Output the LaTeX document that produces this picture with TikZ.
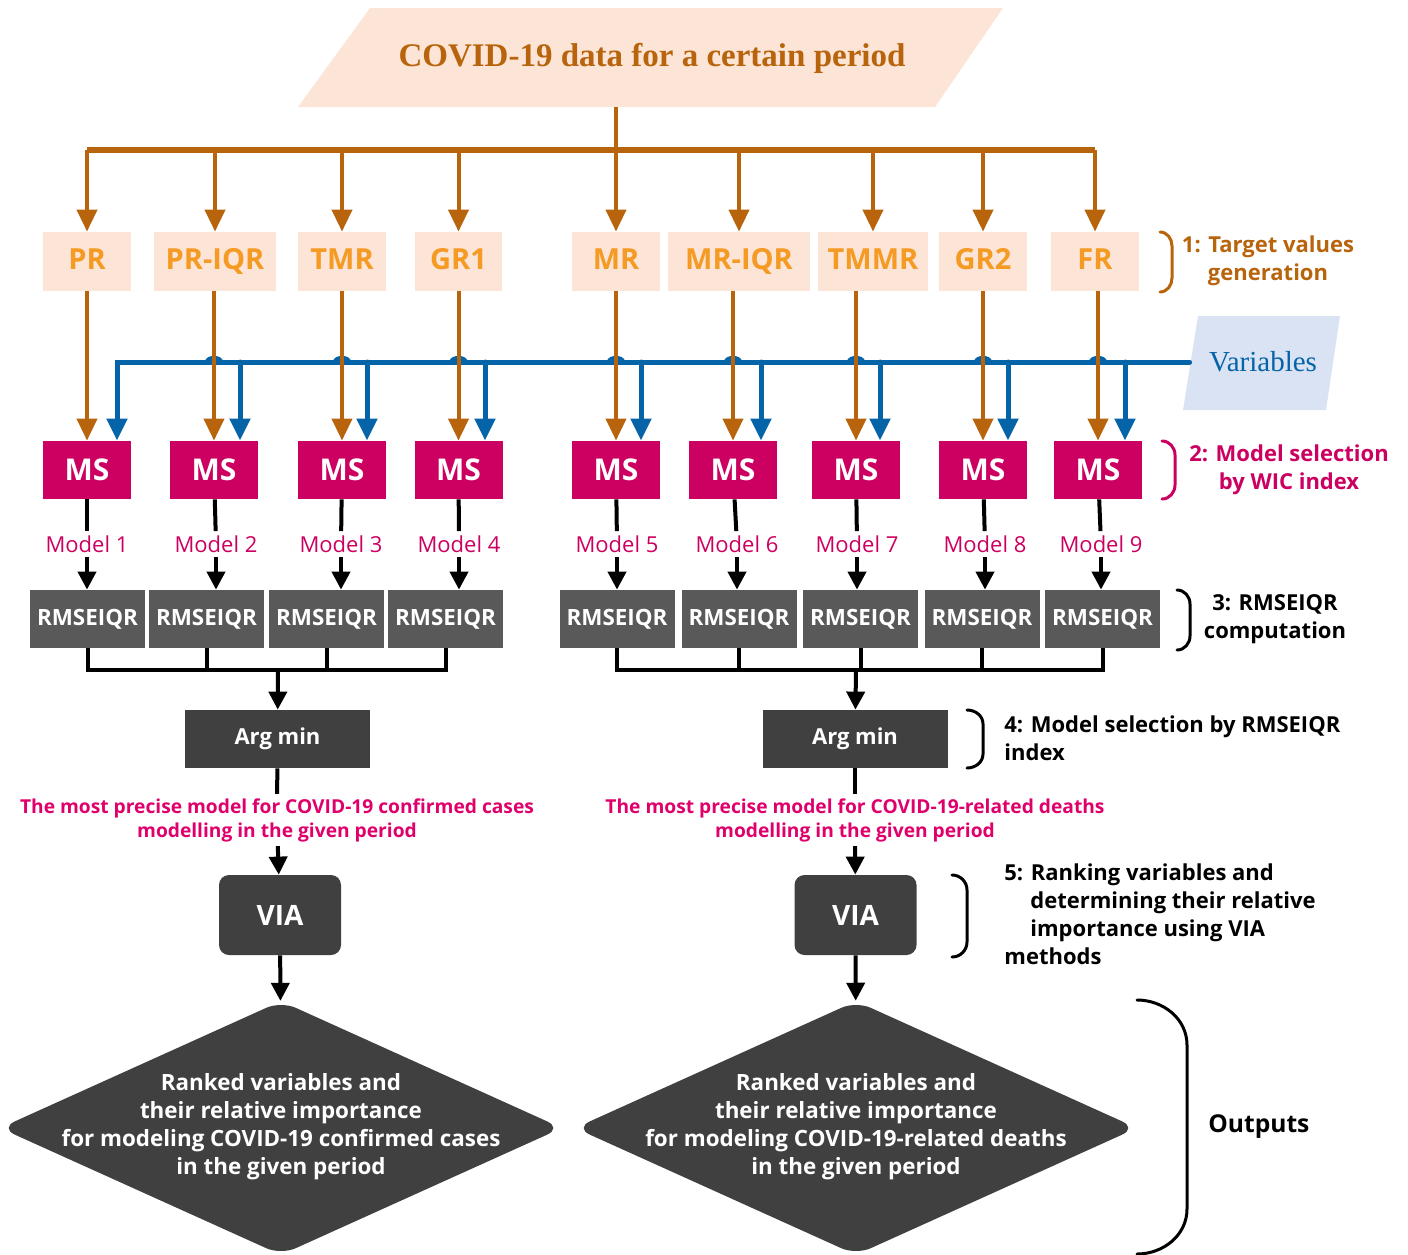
\documentclass[tikz,border=0pt]{standalone}
\usepackage{fontspec}
\setmainfont{Open Sans}
\newfontfamily\timesfont{Liberation Serif}
\usetikzlibrary{arrows.meta,calc,shapes.geometric}

\definecolor{brn}{HTML}{B8640C}
\definecolor{peach}{HTML}{FCE4D6}
\definecolor{org}{HTML}{F59A23}
\definecolor{blu}{HTML}{0563A8}
\definecolor{lblu}{HTML}{DAE3F3}
\definecolor{mag}{HTML}{CC0060}
\definecolor{rd}{HTML}{E0006C}
\definecolor{gry}{HTML}{595959}
\definecolor{drk}{HTML}{404040}

\begin{document}
\begin{tikzpicture}[x=0.5pt, y=-0.5pt,
    every node/.style={font=\fontsize{11pt}{14pt}\selectfont\bfseries},
    tv/.style={rectangle, fill=peach, text=org, minimum height=29.5pt, inner sep=0pt,
               text height=10.5pt, text depth=3pt, font=\fontsize{14.5pt}{17pt}\selectfont\bfseries},
    ms/.style={rectangle, fill=mag, text=white, minimum width=44pt, minimum height=29pt,
               inner sep=0pt, font=\fontsize{15pt}{17pt}\selectfont\bfseries},
    rm/.style={rectangle, fill=gry, text=white, minimum width=57.5pt, minimum height=29pt,
               inner sep=0pt, font=\fontsize{11.2pt}{14pt}\selectfont\bfseries},
    am/.style={rectangle, fill=drk, text=white, minimum width=92.5pt, minimum height=29pt, inner sep=0pt},
    via/.style={rectangle, rounded corners=5pt, fill=drk, text=white, minimum width=61pt,
                minimum height=40pt, inner sep=0pt, font=\fontsize{14pt}{17pt}\selectfont\bfseries},
    rank/.style={diamond, fill=drk, minimum width=281pt, minimum height=127pt, inner sep=0pt, rounded corners=8pt},
    ranktxt/.style={text=white, align=center, font=\fontsize{11.2pt}{14pt}\selectfont\bfseries},
    mdl/.style={text=mag, inner sep=2pt, font=\fontsize{11pt}{13pt}\selectfont},
    best/.style={text=rd, align=center, inner sep=2pt, font=\fontsize{9.6pt}{12pt}\selectfont\bfseries},
    bra/.style={line width=1.5pt, line cap=round},
    eb/.style={brn, line width=2pt, -{Triangle[length=11pt,width=10pt]}},
    ev/.style={blu, line width=2.5pt, line cap=round, -{Triangle[length=11pt,width=10pt]}},
    ek/.style={line width=2pt, -{Triangle[length=9pt,width=9pt]}},
    lk/.style={line width=2pt},
  ]
  \useasboundingbox (0,0) rectangle (1408,1254);

  \fill[peach] (370,8) -- (1003,8) -- (935,107) -- (298,107) -- cycle;
  \node[text=brn, font=\timesfont\bfseries\fontsize{16.5pt}{20pt}\selectfont] (title) at (652,58) {COVID-19 data for a certain period};
  \coordinate (tb) at (616,107);
  \coordinate (hub) at (616,150);

  \node[tv, minimum width=44pt] (t1) at (87,261.5) {PR};
  \node[tv, minimum width=61pt] (t2) at (215,261.5) {PR-IQR};
  \node[tv, minimum width=44pt] (t3) at (342,261.5) {TMR};
  \node[tv, minimum width=43.5pt] (t4) at (458.5,261.5) {GR1};
  \node[tv, minimum width=44pt] (t5) at (616,261.5) {MR};
  \node[tv, minimum width=71pt] (t6) at (739,261.5) {MR-IQR};
  \node[tv, minimum width=55pt] (t7) at (873,261.5) {TMMR};
  \node[tv, minimum width=44pt] (t8) at (983,261.5) {GR2};
  \node[tv, minimum width=44pt] (t9) at (1095,261.5) {FR};

  \fill[lblu] (1198,316) -- (1340,316) -- (1326,410) -- (1183,410) -- cycle;
  \node[text=blu, minimum width=73pt, inner sep=0pt, font=\timesfont\fontsize{14.5pt}{17pt}\selectfont] (var) at (1263,362) {Variables};

  \node[ms] (ms1) at (87,470) {MS};
  \node[ms] (ms2) at (214,470) {MS};
  \node[ms] (ms3) at (342,470) {MS};
  \node[ms] (ms4) at (458.5,470) {MS};
  \node[ms] (ms5) at (616,470) {MS};
  \node[ms] (ms6) at (733,470) {MS};
  \node[ms] (ms7) at (856,470) {MS};
  \node[ms] (ms8) at (983,470) {MS};
  \node[ms] (ms9) at (1098,470) {MS};

  \coordinate (vt1) at (117,362);
  \coordinate (vt2) at (240,362);
  \coordinate (vt3) at (367,362);
  \coordinate (vt4) at (485,362);
  \coordinate (vt5) at (641,362);
  \coordinate (vt6) at (761,362);
  \coordinate (vt7) at (880,362);
  \coordinate (vt8) at (1008,362);
  \coordinate (vt9) at (1125,362);

  \node[mdl] (mo1) at (87,544) {Model 1};
  \node[mdl] (mo2) at (216,544) {Model 2};
  \node[mdl] (mo3) at (341,544) {Model 3};
  \node[mdl] (mo4) at (459,544) {Model 4};
  \node[mdl] (mo5) at (617,544) {Model 5};
  \node[mdl] (mo6) at (737,544) {Model 6};
  \node[mdl] (mo7) at (857,544) {Model 7};
  \node[mdl] (mo8) at (985,544) {Model 8};
  \node[mdl] (mo9) at (1101,544) {Model 9};

  \node[rm] (rm1) at (87.5,619) {RMSEIQR};
  \node[rm] (rm2) at (206.5,619) {RMSEIQR};
  \node[rm] (rm3) at (326.5,619) {RMSEIQR};
  \node[rm] (rm4) at (445.5,619) {RMSEIQR};
  \node[rm] (rm5) at (617,619) {RMSEIQR};
  \node[rm] (rm6) at (739,619) {RMSEIQR};
  \node[rm] (rm7) at (860.5,619) {RMSEIQR};
  \node[rm] (rm8) at (982,619) {RMSEIQR};
  \node[rm] (rm9) at (1102.5,619) {RMSEIQR};
  \coordinate (jl) at (278,670);
  \coordinate (jr) at (856,670);

  \node[am] (am1) at (277.5,739) {Arg min};
  \node[am] (am2) at (855,739) {Arg min};
  \node[best] (pm1) at (277,820) {The most precise model for COVID-19 confirmed cases\\modelling in the given period};
  \node[best] (pm2) at (855,820) {The most precise model for COVID-19-related deaths\\modelling in the given period};
  \node[via] (via1) at (280,915) {VIA};
  \node[via] (via2) at (855.5,915) {VIA};
  \node[rank] (rk1) at (281,1128) {};
  \node[rank] (rk2) at (856,1128) {};
  \node[ranktxt] (rt1) at (281,1127) {Ranked variables and\\their relative importance\\for modeling COVID-19 confirmed cases\\in the given period};
  \node[ranktxt] (rt2) at (856,1127) {Ranked variables and\\their relative importance\\for modeling COVID-19-related deaths\\in the given period};

  \node[text=brn, align=center] (s1) at (1268,261) {1: Target values\\generation};
  \node[text=mag, align=center] (s2) at (1289,470) {2: Model selection\\by WIC index};
  \node[align=center] (s3) at (1275,619) {3: RMSEIQR\\computation};
  \node[align=left, anchor=west, inner sep=0pt] (s4) at (1004,738) {4: Model selection by RMSEIQR\\index};
  \node[align=left, anchor=west, inner sep=0pt] (s5) at (1004,914) {5: Ranking variables and\\\hspace*{13pt}determining their relative\\\hspace*{13pt}importance using VIA\\methods};
  \node[anchor=west, inner sep=0pt, font=\fontsize{12.3pt}{15pt}\selectfont\bfseries] (s6) at (1208,1127) {Outputs};

  \draw[bra, brn] (1160,232) to[out=0,in=90] (1172,246) -- (1172,278) to[out=-90,in=0] (1160,292);
  \draw[bra, mag] (1162,441) to[out=0,in=90] (1175,455) -- (1175,485) to[out=-90,in=0] (1162,499);
  \draw[bra] (1177,590) to[out=0,in=90] (1190,604) -- (1190,636) to[out=-90,in=0] (1177,650);
  \draw[bra] (967,710) to[out=0,in=90] (983,724) -- (983,754) to[out=-90,in=0] (967,768);
  \draw[bra] (952,875) to[out=0,in=90] (967,890) -- (967,942) to[out=-90,in=0] (952,957);
  \draw[bra] (1137,1000) to[out=0,in=90] (1187,1045) -- (1187,1209) to[out=-90,in=0] (1137,1254);

  \draw[brn, line width=2pt] (tb) -- (hub);
  \draw[brn, line width=3pt] (t1 |- hub) -- (t9 |- hub);
  \draw[eb] (t1 |- hub) -- (t1);
  \draw[eb] (t2 |- hub) -- (t2);
  \draw[eb] (t3 |- hub) -- (t3);
  \draw[eb] (t4 |- hub) -- (t4);
  \draw[eb] (t5 |- hub) -- (t5);
  \draw[eb] (t6 |- hub) -- (t6);
  \draw[eb] (t7 |- hub) -- (t7);
  \draw[eb] (t8 |- hub) -- (t8);
  \draw[eb] (t9 |- hub) -- (t9);

  \draw[ev] (var.west) -- (vt1) -- (vt1 |- ms1.north);
  \draw[ev] (vt2) -- (vt2 |- ms2.north);
  \draw[ev] (vt3) -- (vt3 |- ms3.north);
  \draw[ev] (vt4) -- (vt4 |- ms4.north);
  \draw[ev] (vt5) -- (vt5 |- ms5.north);
  \draw[ev] (vt6) -- (vt6 |- ms6.north);
  \draw[ev] (vt7) -- (vt7 |- ms7.north);
  \draw[ev] (vt8) -- (vt8 |- ms8.north);
  \draw[ev] (vt9) -- (vt9 |- ms9.north);
  \draw[blu, line width=2pt] ($(ms2 |- vt1)+(-7,0)$) to[out=90,in=90] ($(ms2 |- vt1)+(7,0)$);
  \draw[blu, line width=2pt] ($(ms3 |- vt1)+(-7,0)$) to[out=90,in=90] ($(ms3 |- vt1)+(7,0)$);
  \draw[blu, line width=2pt] ($(ms4 |- vt1)+(-7,0)$) to[out=90,in=90] ($(ms4 |- vt1)+(7,0)$);
  \draw[blu, line width=2pt] ($(ms5 |- vt1)+(-7,0)$) to[out=90,in=90] ($(ms5 |- vt1)+(7,0)$);
  \draw[blu, line width=2pt] ($(ms6 |- vt1)+(-7,0)$) to[out=90,in=90] ($(ms6 |- vt1)+(7,0)$);
  \draw[blu, line width=2pt] ($(ms7 |- vt1)+(-7,0)$) to[out=90,in=90] ($(ms7 |- vt1)+(7,0)$);
  \draw[blu, line width=2pt] ($(ms8 |- vt1)+(-7,0)$) to[out=90,in=90] ($(ms8 |- vt1)+(7,0)$);
  \draw[blu, line width=2pt] ($(ms9 |- vt1)+(-7,0)$) to[out=90,in=90] ($(ms9 |- vt1)+(7,0)$);

  \draw[eb] (ms1 |- t1.south) -- (ms1);
  \draw[eb] (ms2 |- t2.south) -- (ms2);
  \draw[eb] (ms3 |- t3.south) -- (ms3);
  \draw[eb] (ms4 |- t4.south) -- (ms4);
  \draw[eb] (ms5 |- t5.south) -- (ms5);
  \draw[eb] (ms6 |- t6.south) -- (ms6);
  \draw[eb] (ms7 |- t7.south) -- (ms7);
  \draw[eb] (ms8 |- t8.south) -- (ms8);
  \draw[eb] (ms9 |- t9.south) -- (ms9);

  \draw[lk] (ms1) -- (mo1);
  \draw[lk] (ms2) -- (mo2);
  \draw[lk] (ms3) -- (mo3);
  \draw[lk] (ms4) -- (mo4);
  \draw[lk] (ms5) -- (mo5);
  \draw[lk] (ms6) -- (mo6);
  \draw[lk] (ms7) -- (mo7);
  \draw[lk] (ms8) -- (mo8);
  \draw[lk] (ms9) -- (mo9);
  \draw[ek] (mo1) -- (mo1 |- rm1.north);
  \draw[ek] (mo2) -- (mo2 |- rm2.north);
  \draw[ek] (mo3) -- (mo3 |- rm3.north);
  \draw[ek] (mo4) -- (mo4 |- rm4.north);
  \draw[ek] (mo5) -- (mo5 |- rm5.north);
  \draw[ek] (mo6) -- (mo6 |- rm6.north);
  \draw[ek] (mo7) -- (mo7 |- rm7.north);
  \draw[ek] (mo8) -- (mo8 |- rm8.north);
  \draw[ek] (mo9) -- (mo9 |- rm9.north);

  \draw[lk] (rm1) |- (jl);
  \draw[lk] (rm4) |- (jl);
  \draw[lk] (rm2) -- (rm2 |- jl);
  \draw[lk] (rm3) -- (rm3 |- jl);
  \draw[lk] (rm5) |- (jr);
  \draw[lk] (rm9) |- (jr);
  \draw[lk] (rm6) -- (rm6 |- jr);
  \draw[lk] (rm7) -- (rm7 |- jr);
  \draw[lk] (rm8) -- (rm8 |- jr);
  \draw[ek] (jl) -- (am1);
  \draw[ek] (jr) -- (am2);

  \draw[lk] (am1) -- (pm1);
  \draw[lk] (am2) -- (pm2);
  \draw[ek] (pm1) -- (via1);
  \draw[ek] (pm2) -- (via2);
  \draw[ek] (via1) -- (rk1);
  \draw[ek] (via2) -- (rk2);
\end{tikzpicture}
\end{document}
